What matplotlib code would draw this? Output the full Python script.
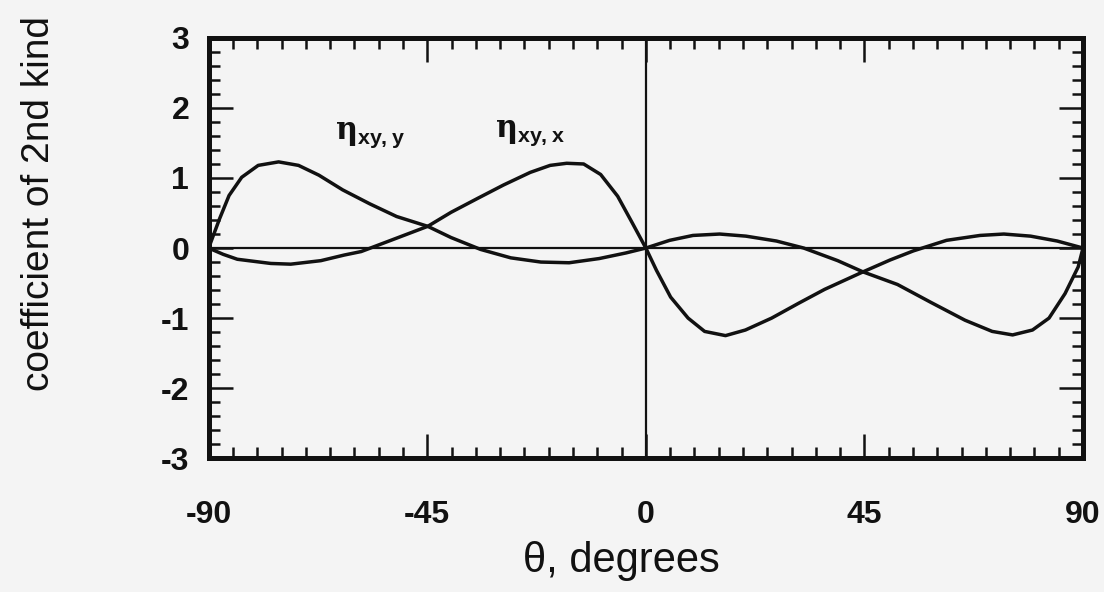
import matplotlib
matplotlib.use('Agg')
import matplotlib.pyplot as plt
from matplotlib.ticker import MultipleLocator

plt.rcParams['font.family'] = ['Liberation Sans', 'DejaVu Sans']
plt.rcParams['font.weight'] = 'bold'
plt.rcParams['axes.unicode_minus'] = False
plt.rcParams['mathtext.fontset'] = 'custom'
plt.rcParams['mathtext.rm'] = 'Liberation Sans:bold'
plt.rcParams['mathtext.bf'] = 'Liberation Sans:bold'
plt.rcParams['mathtext.it'] = 'DejaVu Serif'

# values
theta_xy_y = [-90, -87.8, -85.8, -83.2, -79.8, -75.6, -71.5, -67.3, -62.4, -56.8,
              -51.3, -44.9, -40.1, -34.0, -27.8, -21.6, -15.8, -9.6, -4.1, 0,
              4.9, 9.7, 15.2, 20.6, 26.9, 32.5, 39.5, 44.7, 51.8, 58.8,
              65.7, 71.3, 75.5, 79.6, 83.0, 86.3, 89.0, 90]
eta_xy_y = [0, 0.41, 0.75, 1.01, 1.18, 1.23, 1.18, 1.04, 0.83, 0.63,
            0.45, 0.31, 0.15, -0.02, -0.14, -0.20, -0.21, -0.15, -0.07, 0,
            0.11, 0.18, 0.20, 0.17, 0.10, 0, -0.18, -0.34, -0.52, -0.78,
            -1.03, -1.19, -1.24, -1.17, -1.00, -0.65, -0.27, 0]

theta_xy_x = [-90, -87.0, -84.1, -77.2, -73.1, -66.9, -62.1, -58.6, -52.5, -44.9,
              -40.1, -34.6, -29.3, -23.8, -19.7, -16.3, -12.8, -9.3, -5.8, -2.8,
              0, 2.2, 5.1, 8.7, 12.1, 16.4, 20.5, 25.9, 31.4, 36.8,
              44.7, 50.3, 55.1, 61.9, 68.8, 73.7, 79.2, 84.7, 90]
eta_xy_x = [0, -0.09, -0.16, -0.22, -0.23, -0.18, -0.10, -0.05, 0.11, 0.31,
            0.51, 0.71, 0.90, 1.08, 1.18, 1.21, 1.20, 1.05, 0.74, 0.36,
            0, -0.32, -0.70, -1.00, -1.19, -1.25, -1.17, -1.00, -0.79, -0.59,
            -0.34, -0.17, -0.04, 0.11, 0.18, 0.20, 0.17, 0.10, 0]

x_ticks = [-90, -45, 0, 45, 90]
y_ticks = [-3, -2, -1, 0, 1, 2, 3]

bg = '#f4f4f4'
ink = '#111111'

fig = plt.figure(figsize=(11.04, 5.92), dpi=100, facecolor=bg)
ax = fig.add_axes([0.189, 0.226, 0.792, 0.710], facecolor=bg)

ax.plot(theta_xy_y, eta_xy_y, color=ink, lw=2.5, solid_joinstyle='round')
ax.plot(theta_xy_x, eta_xy_x, color=ink, lw=2.5, solid_joinstyle='round')
ax.axhline(0, color=ink, lw=1.6)
ax.axvline(0, color=ink, lw=1.6)

ax.text(-64, 1.62, r'$\eta_{\mathrm{xy,y}}$', fontsize=22, color=ink, ha='left', va='center')
ax.text(-31, 1.64, r'$\eta_{\mathrm{xy,x}}$', fontsize=22, color=ink, ha='left', va='center')

ax.set_xlim(-90, 90)
ax.set_ylim(-3, 3)
ax.set_xticks(x_ticks)
ax.set_yticks(y_ticks)
ax.xaxis.set_minor_locator(MultipleLocator(5))
ax.yaxis.set_minor_locator(MultipleLocator(0.2))
ax.tick_params(which='both', direction='in', top=True, right=True, color=ink)
ax.tick_params(which='major', length=17, width=1.8, labelsize=23, pad=14, labelcolor=ink)
ax.tick_params(which='minor', length=8, width=1.8)
ax.tick_params(axis='x', which='major', pad=30)

for s in ax.spines.values():
    s.set_linewidth(3.6)
    s.set_color(ink)

ax.set_xlabel('θ, degrees', fontsize=30, color=ink)
ax.set_ylabel('coefficient of 2nd kind', fontsize=28, color=ink)
ax.xaxis.set_label_coords(0.472, -0.198)
ax.yaxis.set_label_coords(-0.174, 0.605)

fig.savefig('out.png', dpi=100, facecolor=bg)
